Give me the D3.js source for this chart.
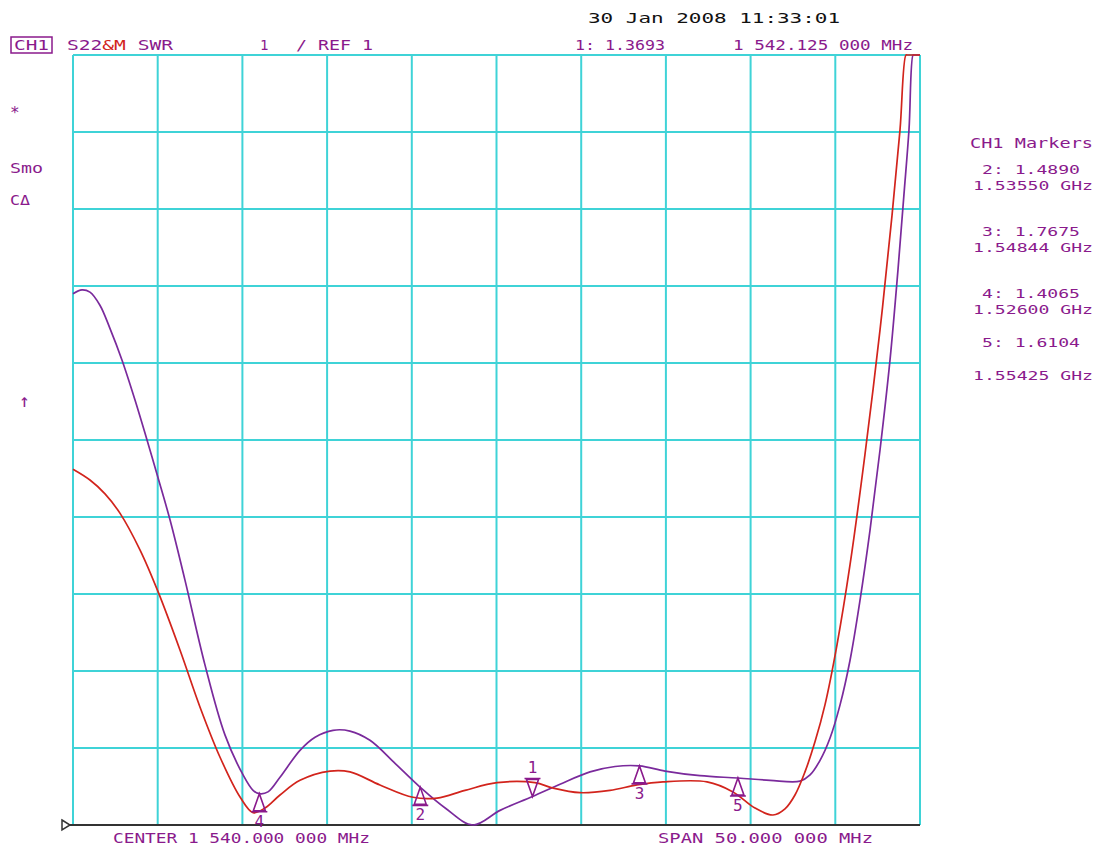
<!DOCTYPE html>
<html>
<head>
<meta charset="utf-8">
<script src="https://cdn.jsdelivr.net/npm/d3@7"></script>
<style>
  body { margin: 0; background: #fff; }
  text { font-family: "DejaVu Sans Mono", monospace; }
</style>
</head>
<body>
<svg id="chart" width="1102" height="850"></svg>
<script>
// frequency axis (MHz) and SWR axis
const freqTicks = d3.range(1515, 1566, 5);
const swrTicks = d3.range(1, 12, 1);

// trace 1 (purple, memory) - frequency / SWR
const purpleFreq = [1515.00, 1515.53, 1516.00, 1516.59, 1517.18, 1517.89, 1518.66, 1519.37, 1520.02, 1520.73,
  1521.61, 1522.79, 1523.97, 1525.04, 1525.63, 1526.00, 1526.51, 1527.22, 1528.40, 1529.29,
  1530.35, 1531.35, 1532.53, 1534.01, 1535.50, 1536.97, 1538.61, 1540.21, 1542.125, 1543.75,
  1545.52, 1547.00, 1548.44, 1549.95, 1552.01, 1554.25, 1556.15, 1557.92, 1558.51, 1559.10,
  1559.69, 1560.28, 1560.87, 1561.46, 1562.05, 1562.64, 1563.23, 1563.70, 1564.05, 1564.35,
  1564.59, 1564.65, 1565.00];
const purpleSwr = [7.90, 7.95, 7.92, 7.75, 7.45, 7.04, 6.52, 6.00, 5.51, 4.96,
  4.18, 3.08, 2.17, 1.65, 1.45, 1.4065, 1.43, 1.62, 1.97, 2.14,
  2.23, 2.22, 2.10, 1.80, 1.489, 1.22, 1.00, 1.19, 1.3693, 1.53,
  1.69, 1.76, 1.7675, 1.70, 1.64, 1.6104, 1.58, 1.57, 1.65, 1.84,
  2.13, 2.56, 3.14, 3.92, 4.83, 5.87, 7.04, 8.21, 9.18, 10.03,
  11.0, 11.0, 11.0];

// trace 2 (red, data)
const redFreq = [1515.00, 1516.00, 1516.89, 1517.77, 1518.96, 1520.02, 1521.32, 1522.50, 1523.68, 1524.87,
  1525.63, 1526.33, 1527.22, 1528.40, 1530.17, 1531.35, 1533.12, 1535.07, 1536.49, 1538.14,
  1540.03, 1542.27, 1543.33, 1544.93, 1546.70, 1548.29, 1549.83, 1552.43, 1553.96, 1555.26,
  1556.32, 1557.03, 1557.62, 1558.21, 1558.80, 1559.39, 1560.10, 1560.87, 1561.75, 1562.64,
  1563.35, 1563.82, 1564.17, 1564.25, 1565.00];
const redSwr = [5.62, 5.48, 5.30, 5.05, 4.57, 4.03, 3.27, 2.53, 1.88, 1.36,
  1.16, 1.22, 1.39, 1.58, 1.70, 1.69, 1.52, 1.36, 1.35, 1.45,
  1.55, 1.55, 1.48, 1.42, 1.45, 1.52, 1.56, 1.56, 1.43, 1.22,
  1.13, 1.21, 1.39, 1.69, 2.08, 2.56, 3.34, 4.38, 5.81, 7.43,
  8.92, 10.03, 11.0, 11.0, 11.0];

// markers
const markerIds = [1, 2, 3, 4, 5];
const markerFreq = [1542.125, 1535.50, 1548.44, 1526.00, 1554.25];
const markerSwr = [1.3693, 1.4890, 1.7675, 1.4065, 1.6104];

const PURPLE = "#8a1a8c";
const TRACE_PURPLE = "#7a2a9c";
const TRACE_RED = "#d2241c";
const GRID = "#3fd3d7";

const svg = d3.select("#chart");

const x = d3.scaleLinear().domain([1515, 1565]).range([73, 920]);
const y = d3.scaleLinear().domain([1, 11]).range([825, 55]).clamp(true);

svg.append("clipPath").attr("id", "plot")
  .append("rect")
  .attr("x", x(1515) - 2).attr("y", y(11) - 2)
  .attr("width", x(1565) - x(1515) + 4).attr("height", y(1) - y(11) + 4);

// grid
const grid = svg.append("g");
grid.selectAll(".v").data(freqTicks).join("line")
  .attr("x1", d => x(d)).attr("x2", d => x(d))
  .attr("y1", y(11)).attr("y2", y(1))
  .attr("stroke", GRID).attr("stroke-width", 2);
grid.selectAll(".h").data(swrTicks.slice(1)).join("line")
  .attr("x1", x(1515)).attr("x2", x(1565))
  .attr("y1", d => y(d)).attr("y2", d => y(d))
  .attr("stroke", GRID).attr("stroke-width", 2);

// reference line at the bottom + ref pointer
svg.append("line")
  .attr("x1", x(1515) - 5).attr("x2", x(1565))
  .attr("y1", y(1)).attr("y2", y(1))
  .attr("stroke", "#333").attr("stroke-width", 2);
svg.append("path")
  .attr("d", `M${x(1515) - 11},${y(1) - 5} L${x(1515) - 3},${y(1)} L${x(1515) - 11},${y(1) + 5} Z`)
  .attr("fill", "#fff").attr("stroke", "#333").attr("stroke-width", 1.5);

// traces
const line = d3.line()
  .x(d => x(d[0]))
  .y(d => y(d[1]))
  .curve(d3.curveCatmullRom.alpha(0.5));

const traces = svg.append("g").attr("clip-path", "url(#plot)");
traces.append("path")
  .datum(d3.zip(purpleFreq, purpleSwr))
  .attr("d", line)
  .attr("fill", "none").attr("stroke", TRACE_PURPLE).attr("stroke-width", 1.7);

traces.append("path")
  .datum(d3.zip(redFreq, redSwr))
  .attr("d", line)
  .attr("fill", "none").attr("stroke", TRACE_RED).attr("stroke-width", 1.7);

// marker triangles (marker 1 is the active one: points down, number above)
const markers = markerIds.map((id, i) => ({ id, f: markerFreq[i], v: markerSwr[i] }));
const mk = svg.append("g").selectAll("g").data(markers).join("g")
  .attr("transform", d => `translate(${x(d.f)},${y(d.v)})`);
mk.append("path")
  .attr("d", d => d.id === 1
    ? "M0,0 L-6,-17 L6,-17 Z M-8,-18 L8,-18"
    : "M0,0 L-6,17 L6,17 Z M-8,18 L8,18")
  .attr("fill", "none").attr("stroke", PURPLE).attr("stroke-width", 1.6);
mk.append("text")
  .attr("y", d => d.id === 1 ? -24 : 33)
  .attr("text-anchor", "middle")
  .attr("font-size", 16)
  .attr("fill", PURPLE)
  .text(d => d.id);

// header texts
function label(txt, x0, yb, len, color, size) {
  const t = svg.append("text")
    .attr("x", x0).attr("y", yb)
    .attr("font-size", size || 14)
    .attr("fill", color || PURPLE)
    .text(txt);
  if (len) t.attr("textLength", len).attr("lengthAdjust", "spacingAndGlyphs");
  return t;
}

svg.append("rect").attr("x", 11).attr("y", 37).attr("width", 41).attr("height", 16)
  .attr("fill", "none").attr("stroke", PURPLE).attr("stroke-width", 1.5);
label("CH1", 14, 50, 35);
const s22 = svg.append("text").attr("x", 67).attr("y", 50).attr("font-size", 14)
  .attr("fill", PURPLE).attr("textLength", 106).attr("lengthAdjust", "spacingAndGlyphs");
s22.append("tspan").text("S22");
s22.append("tspan").attr("fill", TRACE_RED).text("&M");
s22.append("tspan").text(" SWR");
label("1", 260, 50);
label("/ REF 1", 296, 50, 77);
label("30 Jan 2008  11:33:01", 588, 23, 252, "#111");
label(`1: ${markerSwr[0].toFixed(4)}`, 575, 50, 90);
label("1 542.125 000 MHz", 733, 50, 180);

// left annotations
label("*", 10, 118, null, PURPLE, 16);
label("Smo", 10, 173, 33);
label("C\u0394", 10, 205, 20);
label("\u2191", 19, 407, null, PURPLE, 18);

// bottom annotations
label("CENTER 1 540.000 000 MHz", 113, 843, 257);
label("SPAN  50.000 000 MHz", 658, 843, 215);

// marker readout panel
label("CH1 Markers", 970, 148, 123);
const rowY = [[174, 190], [236, 252], [298, 314], [347, 380]];
[1, 2, 3, 4].forEach((i, k) => {
  const a = `${markerIds[i]}: ${markerSwr[i].toFixed(4)}`;
  const b = `${(markerFreq[i] / 1000).toFixed(5)} GHz`;
  label(a, 982, rowY[k][0], 98, PURPLE, 13);
  label(b, 973, rowY[k][1], 120, PURPLE, 13);
});
</script>
</body>
</html>
